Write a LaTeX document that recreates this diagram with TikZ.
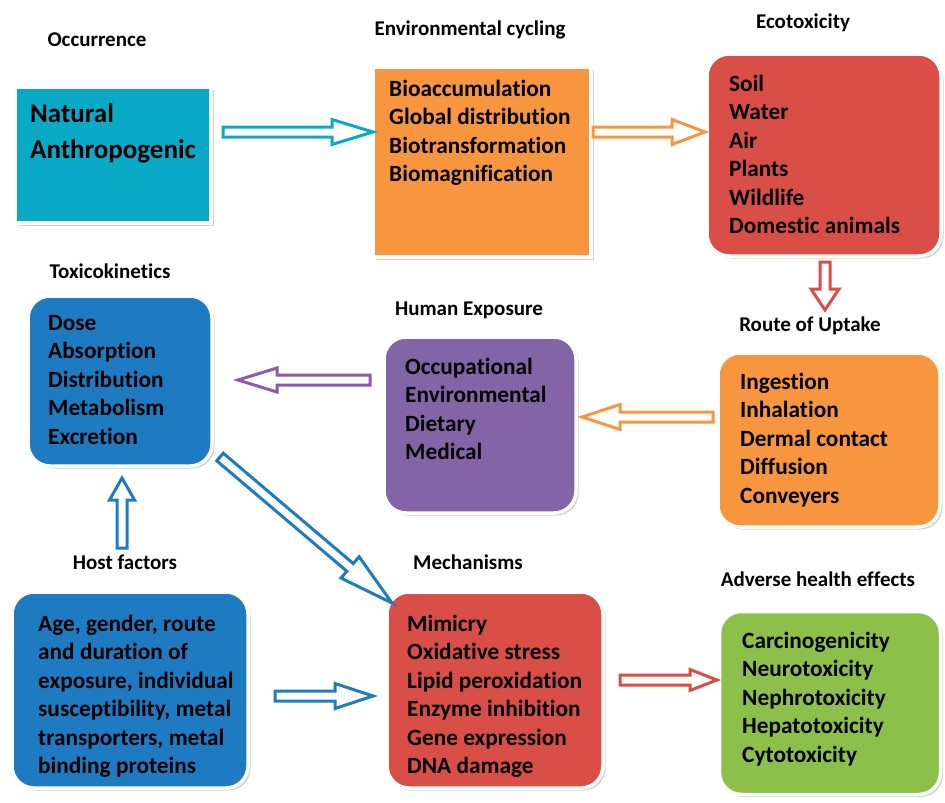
\documentclass[tikz,border=0pt]{standalone}
\usepackage{fontspec}
\setmainfont{Carlito}[Ligatures=NoCommon]
\usetikzlibrary{calc,shadows}
\definecolor{ccyan}{HTML}{0AA9C6}
\definecolor{corange}{HTML}{F8963F}
\definecolor{cred}{HTML}{DA4E48}
\definecolor{cpurple}{HTML}{8364A6}
\definecolor{cblue}{HTML}{1F7BC1}
\definecolor{cgreen}{HTML}{8DC04A}
\definecolor{apurple}{HTML}{8A5BA8}
% #1 from, #2 to, #3 colour, #4 head length, #5 head half width
\newcommand{\blockarr}[5]{%
  \draw[#3, line width=3pt, fill=white, line join=miter]
  let \p1=($(#2)-(#1)$), \n1={atan2(\y1,\x1)}, \n2={veclen(\x1,\y1)-#4} in
  ($(#1)+(\n1+90:5pt)$) -- ($(#1)+(\n1:\n2)+(\n1+90:5pt)$) --
  ($(#1)+(\n1:\n2)+(\n1+90:#5 pt)$) -- (#2) --
  ($(#1)+(\n1:\n2)+(\n1-90:#5 pt)$) -- ($(#1)+(\n1:\n2)+(\n1-90:5pt)$) --
  ($(#1)+(\n1-90:5pt)$) -- cycle;}
\tikzset{
  box/.style={draw=white, line width=3.5pt, inner sep=0pt,
    drop shadow={shadow xshift=2.5pt, shadow yshift=-2.5pt, opacity=0.35}},
  rbox/.style={box, rounded corners=22pt},
  txt/.style={anchor=north west, align=left, inner sep=0pt,
    font=\bfseries\fontsize{23.3}{28.5}\selectfont},
  bigtxt/.style={anchor=north west, align=left, inner sep=0pt,
    font=\bfseries\fontsize{27}{36}\selectfont},
  lab/.style={anchor=base, inner sep=0pt, font=\bfseries\fontsize{21}{24}\selectfont}
}
\begin{document}
\begin{tikzpicture}[x=1pt,y=-1pt]
\useasboundingbox (0,0) rectangle (945,803);
\fill[white] (0,0) rectangle (945,803);

% boxes
\node[box, fill=ccyan, minimum width=196pt, minimum height=136pt] (occ) at (113,155) {};
\node[box, fill=corange, minimum width=218pt, minimum height=190pt] (env) at (482,162) {};
\node[rbox, fill=cred, minimum width=234pt, minimum height=202pt] (eco) at (824,155) {};
\node[rbox, fill=corange, minimum width=222pt, minimum height=174pt] (route) at (829,440) {};
\node[rbox, fill=cpurple, minimum width=192pt, minimum height=176pt] (hum) at (480,425) {};
\node[rbox, fill=cblue, minimum width=184pt, minimum height=170pt] (tox) at (120,381) {};
\node[rbox, fill=cblue, minimum width=236pt, minimum height=196pt] (host) at (130,690) {};
\node[rbox, fill=cred, minimum width=216pt, minimum height=196pt] (mech) at (495,690) {};
\node[rbox, fill=cgreen, minimum width=221pt, minimum height=183pt] (adv) at (830,703) {};

% labels
\node[lab] (locc) at (97,46) {Occurrence};
\node[lab] (lenv) at (470,35) {Environmental cycling};
\node[lab] (leco) at (803,28) {Ecotoxicity};
\node[lab] (lroute) at (810,331) {Route of Uptake};
\node[lab] (lhum) at (469,315) {Human Exposure};
\node[lab] (ltox) at (110,278) {Toxicokinetics};
\node[lab] (lhost) at (125,569) {Host factors};
\node[lab] (lmech) at (468,569) {Mechanisms};
\node[lab] (ladv) at (818,586) {Adverse health effects};

% texts
\node[bigtxt] (tocc) at (30,122-25.2) {\strut Natural\\Anthropogenic};
\node[txt] (tenv) at (389,96-20) {\strut Bioaccumulation\\Global distribution\\Biotransformation\\Biomagnification};
\node[txt] (teco) at (729,91-20) {\strut Soil\\Water\\Air\\Plants\\Wildlife\\Domestic animals};
\node[txt] (troute) at (740,389-20) {\strut Ingestion\\Inhalation\\Dermal contact\\Diffusion\\Conveyers};
\node[txt] (thum) at (405,374-20) {\strut Occupational\\Environmental\\Dietary\\Medical};
\node[txt] (ttox) at (48,330-20) {\strut Dose\\Absorption\\Distribution\\Metabolism\\Excretion};
\node[txt] (thost) at (38,631-20) {\strut Age, gender, route\\and duration of\\exposure, individual\\susceptibility, metal\\transporters, metal\\binding proteins};
\node[txt] (tmech) at (407,631-20) {\strut Mimicry\\Oxidative stress\\Lipid peroxidation\\Enzyme inhibition\\Gene expression\\DNA damage};
\node[txt] (tadv) at (742,648-20) {\strut Carcinogenicity\\Neurotoxicity\\Nephrotoxicity\\Hepatotoxicity\\Cytotoxicity};

% arrow end points
\coordinate (a1s) at (223,132); \coordinate (a1e) at (373,132);
\coordinate (a2s) at (593,132); \coordinate (a2e) at (705,132);
\coordinate (a3s) at (825,262); \coordinate (a3e) at (825,310);
\coordinate (a4s) at (713,417); \coordinate (a4e) at (582,417);
\coordinate (a5s) at (370,380); \coordinate (a5e) at (238,380);
\coordinate (a6s) at (122,548); \coordinate (a6e) at (122,478);
\coordinate (a7s) at (220,457); \coordinate (a7e) at (392,603);
\coordinate (a8s) at (275,696); \coordinate (a8e) at (373,696);
\coordinate (a9s) at (620,680); \coordinate (a9e) at (717,680);

\blockarr{a1s}{a1e}{ccyan}{41}{12.5}
\blockarr{a2s}{a2e}{corange}{33}{12.5}
\blockarr{a3s}{a3e}{cred}{21}{14}
\blockarr{a4s}{a4e}{corange}{38}{12.5}
\blockarr{a5s}{a5e}{apurple}{39}{12}
\blockarr{a6s}{a6e}{cblue}{22}{12.5}
\blockarr{a7s}{a7e}{cblue}{55}{14}
\blockarr{a8s}{a8e}{cblue}{38}{12.5}
\blockarr{a9s}{a9e}{cred}{27}{10.5}
\end{tikzpicture}
\end{document}
